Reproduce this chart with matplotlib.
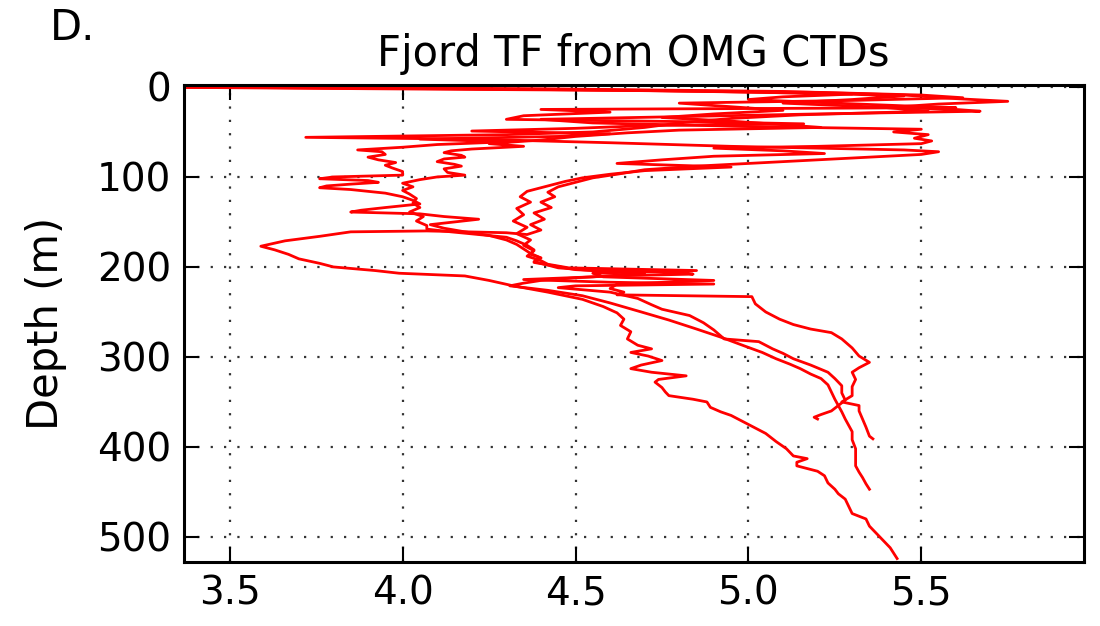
import matplotlib
matplotlib.use("Agg")
import matplotlib.pyplot as plt

# perfis de temperatura (TF) x profundidade, lidos a olho da figura
depth_a = [0, 2, 5, 9, 13, 16, 19, 23, 27, 31, 35, 40, 45, 50, 53, 56, 58, 62, 66, 70,
           72, 75, 79, 84, 88, 92, 97, 101, 106, 111, 117, 122, 128, 134, 140, 147, 153, 159, 164, 162,
           160, 161, 166, 171, 177, 181, 186, 191, 196, 200, 204, 207, 210, 215, 221, 228, 236, 244, 251, 258, 265,
           272, 280, 287, 291, 295, 299, 304, 309, 313, 317, 321, 325, 328, 334, 339, 343, 347, 350, 356, 361,
           365, 369, 377, 385, 394, 402, 410, 413, 417, 421, 427, 432, 440, 447, 452, 458, 466, 474, 480, 488,
           496, 504, 512, 518, 524]
temp_a = [3.30, 4.40, 5.10, 5.45, 5.60, 5.75, 5.55, 5.40, 5.52, 5.15, 4.95, 4.80, 4.70, 4.55, 4.30, 3.72, 4.20, 4.60, 4.95, 5.45,
          5.55, 5.50, 5.30, 5.05, 4.85, 4.70, 4.62, 4.55, 4.50, 4.45, 4.42, 4.44, 4.40, 4.43, 4.38, 4.41, 4.37, 4.40, 4.36, 4.30,
          4.07, 3.85, 3.76, 3.66, 3.59, 3.63, 3.67, 3.70, 3.76, 3.80, 3.92, 3.99, 4.18, 4.25, 4.32, 4.42, 4.52, 4.58, 4.62, 4.64, 4.63,
          4.66, 4.65, 4.68, 4.72, 4.66, 4.71, 4.75, 4.69, 4.66, 4.72, 4.82, 4.74, 4.73, 4.75, 4.76, 4.77, 4.84, 4.88, 4.89, 4.92,
          4.95, 4.97, 5.01, 5.05, 5.08, 5.11, 5.13, 5.17, 5.14, 5.14, 5.20, 5.22, 5.23, 5.25, 5.26, 5.28, 5.29, 5.30, 5.34, 5.35,
          5.37, 5.39, 5.41, 5.42, 5.43]

depth_b = [0, 2, 4, 7, 10, 14, 18, 22, 25, 27, 30, 33, 36, 40, 44, 47, 50, 53, 57, 60,
           63, 66, 68, 71, 74, 77, 81, 85, 89, 93, 97, 101, 105, 110, 116, 122, 128, 135, 142, 149,
           156, 163, 170, 176, 182, 188, 193, 197, 201, 204, 207, 211, 215, 219, 224, 228, 231, 233, 241, 250,
           258, 264, 269, 273, 280, 290, 299, 306, 312, 317, 325, 333, 343, 350, 354, 360, 369, 378, 388, 391]
temp_b = [3.20, 3.90, 4.70, 5.20, 5.45, 5.30, 5.10, 5.35, 5.60, 5.67, 5.20, 4.80, 4.40, 4.55, 5.00, 5.50, 5.42, 5.52, 5.48, 5.53,
          5.50, 5.20, 4.90, 5.10, 5.22, 4.90, 4.75, 4.62, 4.95, 4.70, 4.60, 4.52, 4.47, 4.42, 4.36, 4.34, 4.37, 4.33, 4.35, 4.32,
          4.36, 4.33, 4.37, 4.35, 4.38, 4.36, 4.40, 4.42, 4.48, 4.85, 4.55, 4.58, 4.90, 4.62, 4.60, 4.64, 4.62, 5.01, 5.02, 5.05,
          5.09, 5.13, 5.18, 5.24, 5.27, 5.30, 5.32, 5.35, 5.32, 5.30, 5.31, 5.30, 5.30, 5.27, 5.32, 5.32, 5.33, 5.34, 5.35, 5.36]

depth_c = [0, 2, 5, 8, 11, 14, 18, 21, 23, 25, 28, 32, 36, 39, 41, 43, 46, 49, 52, 55,
           58, 61, 64, 67, 70, 72, 75, 78, 81, 84, 87, 90, 94, 98, 100, 102, 104, 106, 108, 110,
           112, 114, 118, 122, 126, 130, 134, 137, 139, 141, 144, 147, 150, 153, 157, 161, 165, 170, 175, 180,
           185, 190, 195, 199, 203, 207, 211, 214, 217, 219, 221, 223, 228, 235, 242, 247, 254, 262, 270, 280,
           283, 287, 291, 296, 302, 309, 317, 324, 332, 340, 348, 354, 360, 364, 367, 369]
temp_c = [3.25, 4.20, 4.90, 5.30, 5.10, 5.00, 5.25, 5.45, 5.60, 4.40, 4.60, 4.35, 4.30, 4.90, 5.16, 4.70, 4.50, 4.20, 4.60, 4.45,
          4.05, 4.30, 4.10, 4.00, 3.87, 3.94, 3.95, 3.90, 3.93, 3.98, 3.95, 3.97, 4.00, 4.00, 3.80, 3.76, 3.90, 3.93, 3.85, 3.78,
          3.76, 3.85, 3.95, 4.00, 4.03, 4.05, 3.95, 3.88, 3.85, 4.05, 4.12, 4.22, 4.15, 4.08, 4.12, 4.18, 4.25, 4.30, 4.33, 4.35,
          4.37, 4.40, 4.38, 4.44, 4.50, 4.70, 4.55, 4.35, 4.60, 4.90, 4.50, 4.45, 4.60, 4.68, 4.72, 4.75, 4.83, 4.87, 4.90, 4.93,
          5.03, 5.05, 5.07, 5.10, 5.13, 5.18, 5.23, 5.25, 5.27, 5.27, 5.28, 5.26, 5.24, 5.21, 5.19, 5.20]

depth_d = [0, 3, 6, 9, 12, 15, 18, 22, 26, 30, 34, 38, 42, 45, 48, 51, 55, 59, 63, 66,
           69, 71, 73, 76, 78, 80, 83, 86, 88, 91, 95, 98, 100, 103, 107, 111, 115, 119, 124, 129,
           134, 139, 144, 149, 154, 158, 161, 164, 167, 171, 176, 181, 186, 190, 194, 198, 201, 204, 206, 208,
           210, 212, 215, 218, 221, 226, 232, 240, 250, 259, 269, 278, 288, 295, 302, 308, 313, 319, 324, 331,
           339, 347, 354, 361, 369, 376, 383, 392, 402, 411, 421, 428, 434, 441, 447]
temp_d = [3.35, 4.50, 5.20, 5.50, 5.62, 5.30, 4.80, 4.95, 5.10, 4.90, 4.75, 4.95, 5.10, 5.21, 4.80, 4.65, 4.50, 4.40, 4.25, 4.35,
          4.20, 4.14, 4.12, 4.17, 4.18, 4.12, 4.10, 4.15, 4.17, 4.12, 4.13, 4.18, 4.10, 4.05, 4.00, 4.03, 4.00, 4.02, 4.04, 4.03,
          4.05, 4.02, 4.06, 4.04, 4.07, 4.07, 4.14, 4.22, 4.30, 4.33, 4.36, 4.38, 4.37, 4.40, 4.38, 4.42, 4.45, 4.55, 4.80, 4.84,
          4.60, 4.50, 4.40, 4.35, 4.31, 4.42, 4.52, 4.60, 4.69, 4.77, 4.85, 4.92, 4.99, 5.04, 5.08, 5.12, 5.15, 5.18, 5.21, 5.23,
          5.24, 5.25, 5.26, 5.27, 5.28, 5.29, 5.30, 5.30, 5.31, 5.31, 5.31, 5.32, 5.33, 5.34, 5.35]

x_ticks = [3.5, 4.0, 4.5, 5.0, 5.5]
y_ticks = [0, 100, 200, 300, 400, 500]

fig = plt.figure(figsize=(11, 6.26), dpi=100)
ax = fig.add_axes([0.167, 0.102, 0.818, 0.762])

for t, d in [(temp_a, depth_a), (temp_b, depth_b), (temp_c, depth_c), (temp_d, depth_d)]:
    ax.plot(t, d, color='red', linewidth=2.0)

ax.set_xlim(3.367, 5.969)
ax.set_ylim(528, -2)
ax.set_xticks(x_ticks)
ax.set_xticklabels(['%.1f' % v for v in x_ticks])
ax.set_yticks(y_ticks)

ax.grid(True, color='0.2', linestyle=(0, (1, 5)), linewidth=1.6)
ax.tick_params(direction='in', length=11, width=1.5, labelsize=28, pad=9,
               top=True, right=True)
for s in ax.spines.values():
    s.set_linewidth(2.2)

ax.set_title('Fjord TF from OMG CTDs', fontsize=30, pad=14)
ax.set_ylabel('Depth (m)', fontsize=30)
ax.yaxis.set_label_coords(-0.13, 0.5)
fig.text(50 / 1100, 1 - 40 / 626, 'D.', fontsize=30, va='baseline')

fig.savefig('out.png', dpi=100)
